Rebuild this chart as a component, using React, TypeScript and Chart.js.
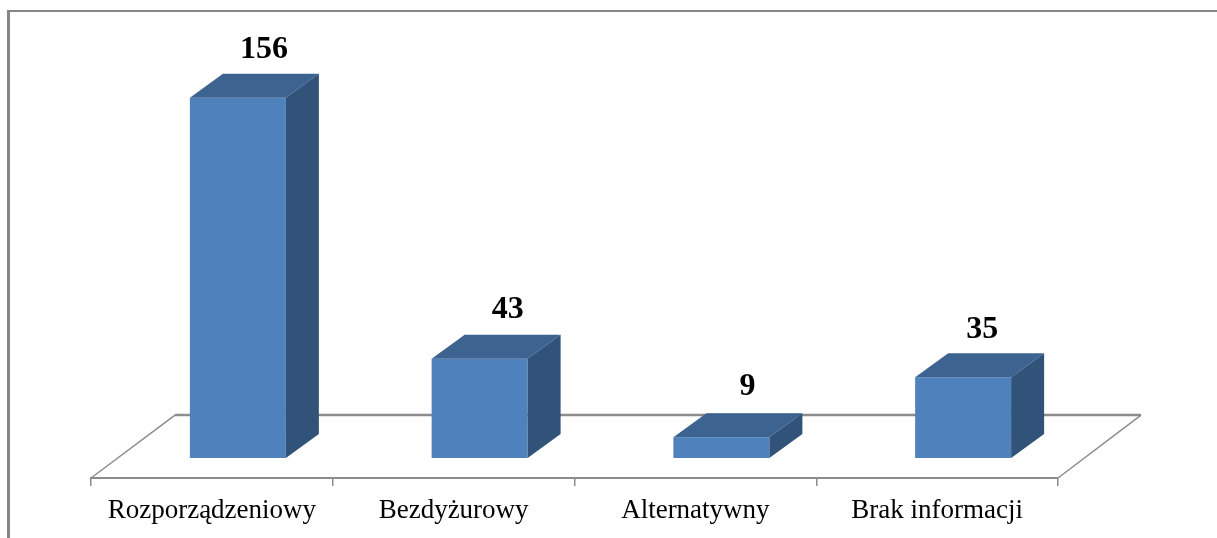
import React, { useEffect, useRef } from "react";
import { Chart, registerables } from "chart.js";

Chart.register(...registerables);

const categories = ["Rozporządzeniowy", "Bezdyżurowy", "Alternatywny", "Brak informacji"];
const values = [156, 43, 9, 35];

// Box extrusion and floor layout, in pixels
const BAR_SHIFT = 26;
const DEPTH_X = 33;
const DEPTH_Y = 24;
const FLOOR_DX = 84;
const FLOOR_FRONT_VALUE = -8.67;
const FLOOR_BACK_VALUE = 18.6;

// Value label placement relative to each bar's front face
const LABEL_DX = [26, 28, 26, 19];
const LABEL_DY = [48, 49, 50, 47];

const FRONT = "#4F81BD";
const TOP = "#3D6391";
const SIDE = "#31537A";
const LINE = "#8C8C8C";

function poly(ctx: CanvasRenderingContext2D, pts: number[][], fill: string) {
  ctx.beginPath();
  pts.forEach(([x, y], i) => (i ? ctx.lineTo(x, y) : ctx.moveTo(x, y)));
  ctx.closePath();
  ctx.fillStyle = fill;
  ctx.fill();
}

// Frame, floor and the extruded faces around each bar
const box3d = {
  id: "box3d",
  beforeDraw(chart: any) {
    const { ctx } = chart;
    ctx.save();
    ctx.fillStyle = "#858585";
    ctx.fillRect(7, 10, 3, 528);
    ctx.fillRect(7, 10, 1210, 2);
    ctx.restore();
  },
  beforeDatasetsDraw(chart: any) {
    const { ctx, chartArea, scales } = chart;
    const back = scales.y.getPixelForValue(FLOOR_BACK_VALUE);
    const front = chartArea.bottom;
    ctx.save();
    ctx.strokeStyle = LINE;
    ctx.lineWidth = 2.5;
    ctx.beginPath();
    ctx.moveTo(chartArea.left + FLOOR_DX, back);
    ctx.lineTo(chartArea.right + FLOOR_DX - 1, back);
    ctx.stroke();
    ctx.lineWidth = 1.5;
    ctx.beginPath();
    ctx.moveTo(chartArea.left, front);
    ctx.lineTo(chartArea.left + FLOOR_DX, back);
    ctx.moveTo(chartArea.right, front);
    ctx.lineTo(chartArea.right + FLOOR_DX - 1, back);
    ctx.stroke();
    ctx.restore();
    ctx.save();
    ctx.translate(BAR_SHIFT, 0);
  },
  afterDatasetsDraw(chart: any) {
    const { ctx } = chart;
    const meta = chart.getDatasetMeta(0);
    meta.data.forEach((bar: any) => {
      const l = bar.x - bar.width / 2;
      const r = bar.x + bar.width / 2;
      const t = bar.y;
      const b = bar.base;
      poly(ctx, [[l, t], [l + DEPTH_X, t - DEPTH_Y], [r + DEPTH_X, t - DEPTH_Y], [r, t]], TOP);
      poly(ctx, [[r, t], [r + DEPTH_X, t - DEPTH_Y], [r + DEPTH_X, b - DEPTH_Y], [r, b]], SIDE);
    });
    ctx.restore();
    ctx.save();
    ctx.font = "bold 32px 'Liberation Serif'";
    ctx.fillStyle = "#000";
    ctx.textAlign = "center";
    ctx.textBaseline = "middle";
    meta.data.forEach((bar: any, i: number) => {
      ctx.fillText(String(values[i]), bar.x + BAR_SHIFT + LABEL_DX[i], bar.y - LABEL_DY[i]);
    });
    ctx.restore();
  },
};

export default function App() {
  const ref = useRef<HTMLCanvasElement>(null);
  useEffect(() => {
    const chart = new Chart(ref.current!, {
      type: "bar",
      data: {
        labels: categories,
        datasets: [
          {
            data: values,
            backgroundColor: FRONT,
            borderWidth: 0,
            barPercentage: 0.397,
            categoryPercentage: 1,
            clip: false,
          } as any,
        ],
      },
      options: {
        animation: false,
        responsive: false,
        layout: { padding: { left: 91, right: 159, top: 77, bottom: 0 } },
        plugins: { legend: { display: false }, tooltip: { enabled: false } },
        scales: {
          x: {
            afterFit: (s: any) => {
              s.height = 60;
            },
            border: { color: LINE, width: 2 },
            grid: { drawOnChartArea: false, drawTicks: true, tickLength: 8, color: LINE, lineWidth: 1.5 },
            ticks: {
              color: "#000",
              font: { family: "'Liberation Serif'", size: 27 },
              padding: 9,
              maxRotation: 0,
            },
          },
          y: { display: false, min: FLOOR_FRONT_VALUE, max: 165 },
        },
      },
      plugins: [box3d],
    });
    return () => chart.destroy();
  }, []);
  return (
    <canvas
      ref={ref}
      width={1217}
      height={538}
      style={{ position: "absolute", left: 0, top: 0, width: 1217, height: 538, background: "#fff" }}
    />
  );
}
